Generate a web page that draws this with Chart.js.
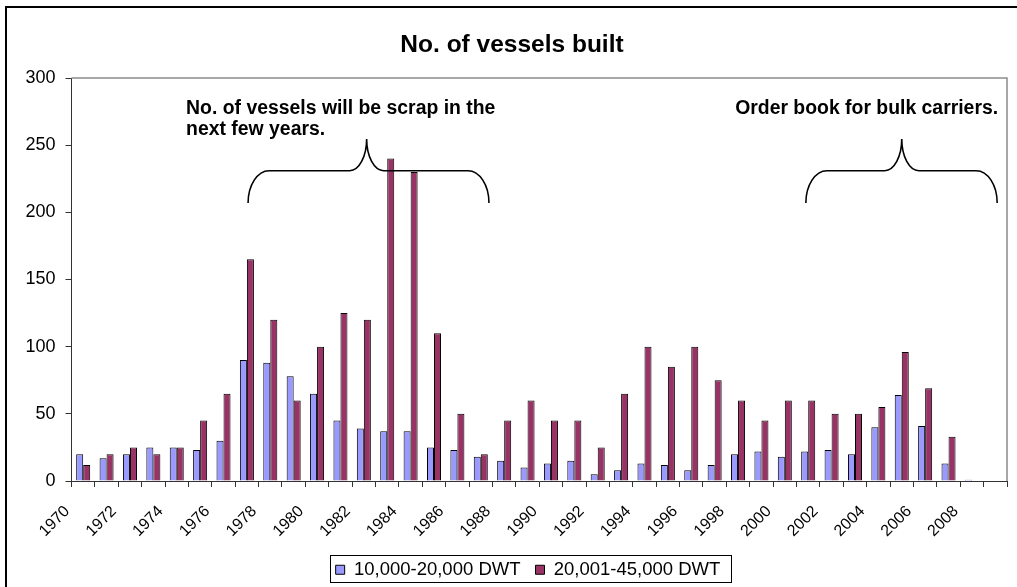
<!DOCTYPE html>
<html><head><meta charset="utf-8">
<script src="https://cdn.jsdelivr.net/npm/chart.js@4/dist/chart.umd.min.js"></script>
<style>html,body{margin:0;padding:0;background:#fff}canvas{display:block}</style>
</head><body>
<canvas id="c" width="1017" height="587"></canvas>
<script>
const years = ['1970','1971','1972','1973','1974','1975','1976','1977','1978','1979',
  '1980','1981','1982','1983','1984','1985','1986','1987','1988','1989',
  '1990','1991','1992','1993','1994','1995','1996','1997','1998','1999',
  '2000','2001','2002','2003','2004','2005','2006','2007','2008','2009'];
const tickLabels = ['1970','1972','1974','1976','1978','1980','1982','1984','1986','1988',
  '1990','1992','1994','1996','1998','2000','2002','2004','2006','2008'];
const seriesNames = ['10,000-20,000 DWT', '20,001-45,000 DWT'];
const small = [20,17,20,25,25,23,30,90,88,78,65,45,39,37,37,25,23,18,15,10,
  13,15,5,8,13,12,8,12,20,22,18,22,23,20,40,64,41,13,1,null];
const large = [12,20,25,20,25,45,65,165,120,60,100,125,120,240,230,110,50,20,45,60,
  45,45,25,65,100,85,100,75,60,45,60,60,50,50,55,96,69,33,null,null];
const titleText = 'No. of vessels built';
const noteLeft = ['No. of vessels will be scrap in the', 'next few years.'];
const noteRight = 'Order book for bulk carriers.';

const FONT = '"Liberation Sans", Arial, Helvetica, sans-serif';
const LEGEND_SHIFT = 16;

function brace(ctx, xs, ys, b) {
  const x0 = xs.getPixelForValue(b.from), x1 = xs.getPixelForValue(b.to), xp = xs.getPixelForValue(b.peak);
  const yE = ys.getPixelForValue(b.endV), yB = ys.getPixelForValue(b.barV), yP = ys.getPixelForValue(b.peakV);
  const k = 0.5523, rx = 21, mx = 17;
  const ry = yE - yB, my = yB - yP;
  ctx.beginPath();
  ctx.moveTo(x0, yE);
  ctx.bezierCurveTo(x0, yE - k * ry, x0 + rx - k * rx, yB, x0 + rx, yB);
  ctx.lineTo(xp - mx, yB);
  ctx.bezierCurveTo(xp - mx + k * mx, yB, xp, yP + k * my, xp, yP);
  ctx.bezierCurveTo(xp, yP + k * my, xp + mx - k * mx, yB, xp + mx, yB);
  ctx.lineTo(x1 - rx, yB);
  ctx.bezierCurveTo(x1 - rx + k * rx, yB, x1, yE - k * ry, x1, yE);
  ctx.stroke();
}

const decor = {
  id: 'decor',
  afterLayout(chart) {
    chart.legend.left += LEGEND_SHIFT;
    chart.legend.right += LEGEND_SHIFT;
  },
  beforeDatasetsDraw(chart) {
    const {ctx, chartArea: a} = chart;
    ctx.save();
    ctx.strokeStyle = '#8c8c8c';
    ctx.lineWidth = 1.5;
    ctx.beginPath();
    ctx.moveTo(a.left, a.top);
    ctx.lineTo(a.right, a.top);
    ctx.lineTo(a.right, a.bottom);
    ctx.stroke();
    ctx.restore();
  },
  afterDraw(chart) {
    const {ctx} = chart;
    const xs = chart.scales.x, ys = chart.scales.y;
    ctx.save();
    ctx.strokeStyle = '#000';
    ctx.lineWidth = 1.6;
    brace(ctx, xs, ys, {from: 7.05, peak: 12.12, to: 17.35, endV: 207, barV: 231, peakV: 254.5});
    brace(ctx, xs, ys, {from: 30.9, peak: 35.0, to: 39.08, endV: 207, barV: 231, peakV: 254.5});
    ctx.fillStyle = '#000';
    ctx.font = 'bold 19.4px ' + FONT;
    ctx.textBaseline = 'alphabetic';
    ctx.textAlign = 'left';
    ctx.fillText(noteLeft[0], xs.getPixelForValue(4.4), ys.getPixelForValue(273.4));
    ctx.fillText(noteLeft[1], xs.getPixelForValue(4.4), ys.getPixelForValue(257.8));
    ctx.textAlign = 'right';
    ctx.fillText(noteRight, xs.getPixelForValue(39.12), ys.getPixelForValue(273.4));
    // legend frame
    const hb = chart.legend.legendHitBoxes;
    if (hb && hb.length) {
      const l = hb[0].left - 6;
      const r = hb[hb.length - 1].left + hb[hb.length - 1].width + 10.5;
      const cy = hb[0].top + hb[0].height / 2;
      ctx.lineWidth = 1;
      ctx.strokeStyle = '#000';
      ctx.strokeRect(Math.round(l) + 0.5, Math.round(cy - 14.5) + 0.5, Math.round(r - l), 27);
    }
    // outer border
    ctx.lineWidth = 2;
    ctx.strokeRect(6, 7, 1040, 600);
    ctx.restore();
  }
};

new Chart(document.getElementById('c'), {
  type: 'bar',
  data: {
    labels: years,
    datasets: [
      {label: seriesNames[0], data: small, backgroundColor: '#9999FF', borderColor: '#000', borderWidth: 1,
       categoryPercentage: 0.6, barPercentage: 1},
      {label: seriesNames[1], data: large, backgroundColor: '#993366', borderColor: '#000', borderWidth: 1,
       categoryPercentage: 0.6, barPercentage: 1}
    ]
  },
  options: {
    responsive: false,
    animation: false,
    devicePixelRatio: 1,
    layout: {padding: {left: 17, right: 10, top: 7, bottom: -2}},
    plugins: {
      title: {display: true, text: titleText, color: '#000',
        font: {family: FONT, size: 24.5, weight: 'bold', lineHeight: 1.2},
        padding: {top: 23.3, bottom: 18.3}},
      legend: {position: 'bottom',
        labels: {color: '#000', font: {family: FONT, size: 18.5}, boxWidth: 9, boxHeight: 9, padding: 15}},
      tooltip: {enabled: false}
    },
    scales: {
      x: {
        grid: {offset: true, drawOnChartArea: false, drawTicks: true, tickLength: 6, color: '#333'},
        border: {color: '#333', width: 1},
        ticks: {autoSkip: false, minRotation: 45, maxRotation: 45, labelOffset: -16, padding: 15,
          color: '#000', font: {family: FONT, size: 16},
          callback: (v, i) => tickLabels.includes(years[i]) ? years[i] : ''},
        afterFit: s => { s.height = 64.5; s.paddingLeft = 0; s.paddingRight = 0; }
      },
      y: {
        min: 0, max: 300,
        ticks: {stepSize: 50, padding: 10, color: '#000', font: {family: FONT, size: 18}},
        grid: {drawOnChartArea: false, drawTicks: true, tickLength: 6, color: '#333'},
        border: {color: '#333', width: 1},
        afterFit: s => { s.width = 71.5 - 17; s.paddingTop = 0; s.paddingBottom = 0; }
      }
    }
  },
  plugins: [decor]
});
</script>
</body></html>
